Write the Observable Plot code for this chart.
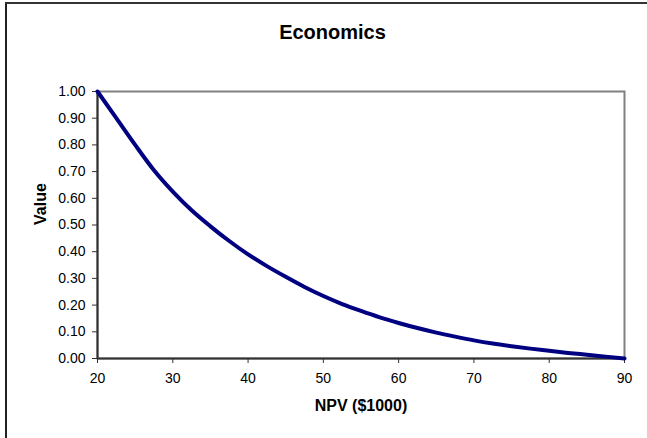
<!DOCTYPE html>
<html>
<head>
<meta charset="utf-8">
<script src="https://cdn.jsdelivr.net/npm/d3@7"></script>
<script src="https://cdn.jsdelivr.net/npm/@observablehq/plot@0.6"></script>
<style>
  html, body { margin: 0; padding: 0; background: white; overflow: hidden; }
  #wrap { position: relative; width: 647px; height: 438px; overflow: hidden; }
  #bl { position: absolute; left: 5px; top: 2px; width: 2px; height: 436px; background: #222; }
  #bt { position: absolute; left: 5px; top: 2px; width: 642px; height: 2px; background: #333; }
  #wrap svg g[aria-label$="tick label"] { font-size: 14px; }
</style>
</head>
<body>
<div id="wrap"><div id="bl"></div><div id="bt"></div></div>
<script>
const title = "Economics";
const xLabel = "NPV ($1000)";
const yLabel = "Value";
const npv = [20, 22.5, 25, 27.5, 30, 32.5, 35, 37.5, 40, 42.5, 45, 47.5, 50, 52.5, 55, 57.5, 60, 62.5, 65, 67.5, 70, 72.5, 75, 77.5, 80, 82.5, 85, 87.5, 90];
const value = [1.00, 0.90, 0.80, 0.705, 0.625, 0.555, 0.495, 0.44, 0.39, 0.346, 0.306, 0.268, 0.234, 0.204, 0.178, 0.154, 0.133, 0.114, 0.097, 0.082, 0.068, 0.056, 0.046, 0.037, 0.029, 0.021, 0.014, 0.007, 0.0];
const xTicks = [20, 30, 40, 50, 60, 70, 80, 90];
const yTicks = [0, 0.1, 0.2, 0.3, 0.4, 0.5, 0.6, 0.7, 0.8, 0.9, 1.0];

const data = npv.map((x, i) => ({x, v: value[i]}));

const chart = Plot.plot({
  width: 647,
  height: 438,
  marginLeft: 97,
  marginRight: 23,
  marginTop: 91,
  marginBottom: 80,
  x: {domain: [20, 90]},
  y: {domain: [0, 1]},
  style: {fontFamily: "'Liberation Sans', Arial, sans-serif", fontSize: "14px", color: "#000", background: "transparent"},
  marks: [
    Plot.frame({stroke: "#808080", strokeWidth: 2}),
    Plot.ruleX([20], {stroke: "#333", strokeWidth: 2}),
    Plot.ruleY([0], {stroke: "#333", strokeWidth: 2}),
    Plot.axisX({ticks: xTicks, tickSize: 5, tickPadding: 10, label: null, tickFormat: d => String(d), stroke: "#333", fontSize: 14}),
    Plot.axisY({ticks: yTicks, tickSize: 5, tickPadding: 7, label: null, tickFormat: d => d.toFixed(2), stroke: "#333", fontSize: 14}),
    Plot.line(data, {x: "x", y: "v", stroke: "#000080", strokeWidth: 4, curve: "monotone-x"}),
    Plot.text([title], {text: d => d, frameAnchor: "top-left", dx: 235, dy: -59, lineAnchor: "middle", textAnchor: "middle", fontSize: 20, fontWeight: "bold"}),
    Plot.text([xLabel], {text: d => d, frameAnchor: "bottom", dy: 47, lineAnchor: "middle", fontSize: 16, fontWeight: "bold"}),
    Plot.text([yLabel], {text: d => d, frameAnchor: "left", dx: -57, rotate: -90, lineAnchor: "middle", fontSize: 16, fontWeight: "bold"})
  ]
});
chart.style.position = "absolute";
chart.style.left = "0px";
chart.style.top = "0px";
document.getElementById("wrap").appendChild(chart);
</script>
</body>
</html>
